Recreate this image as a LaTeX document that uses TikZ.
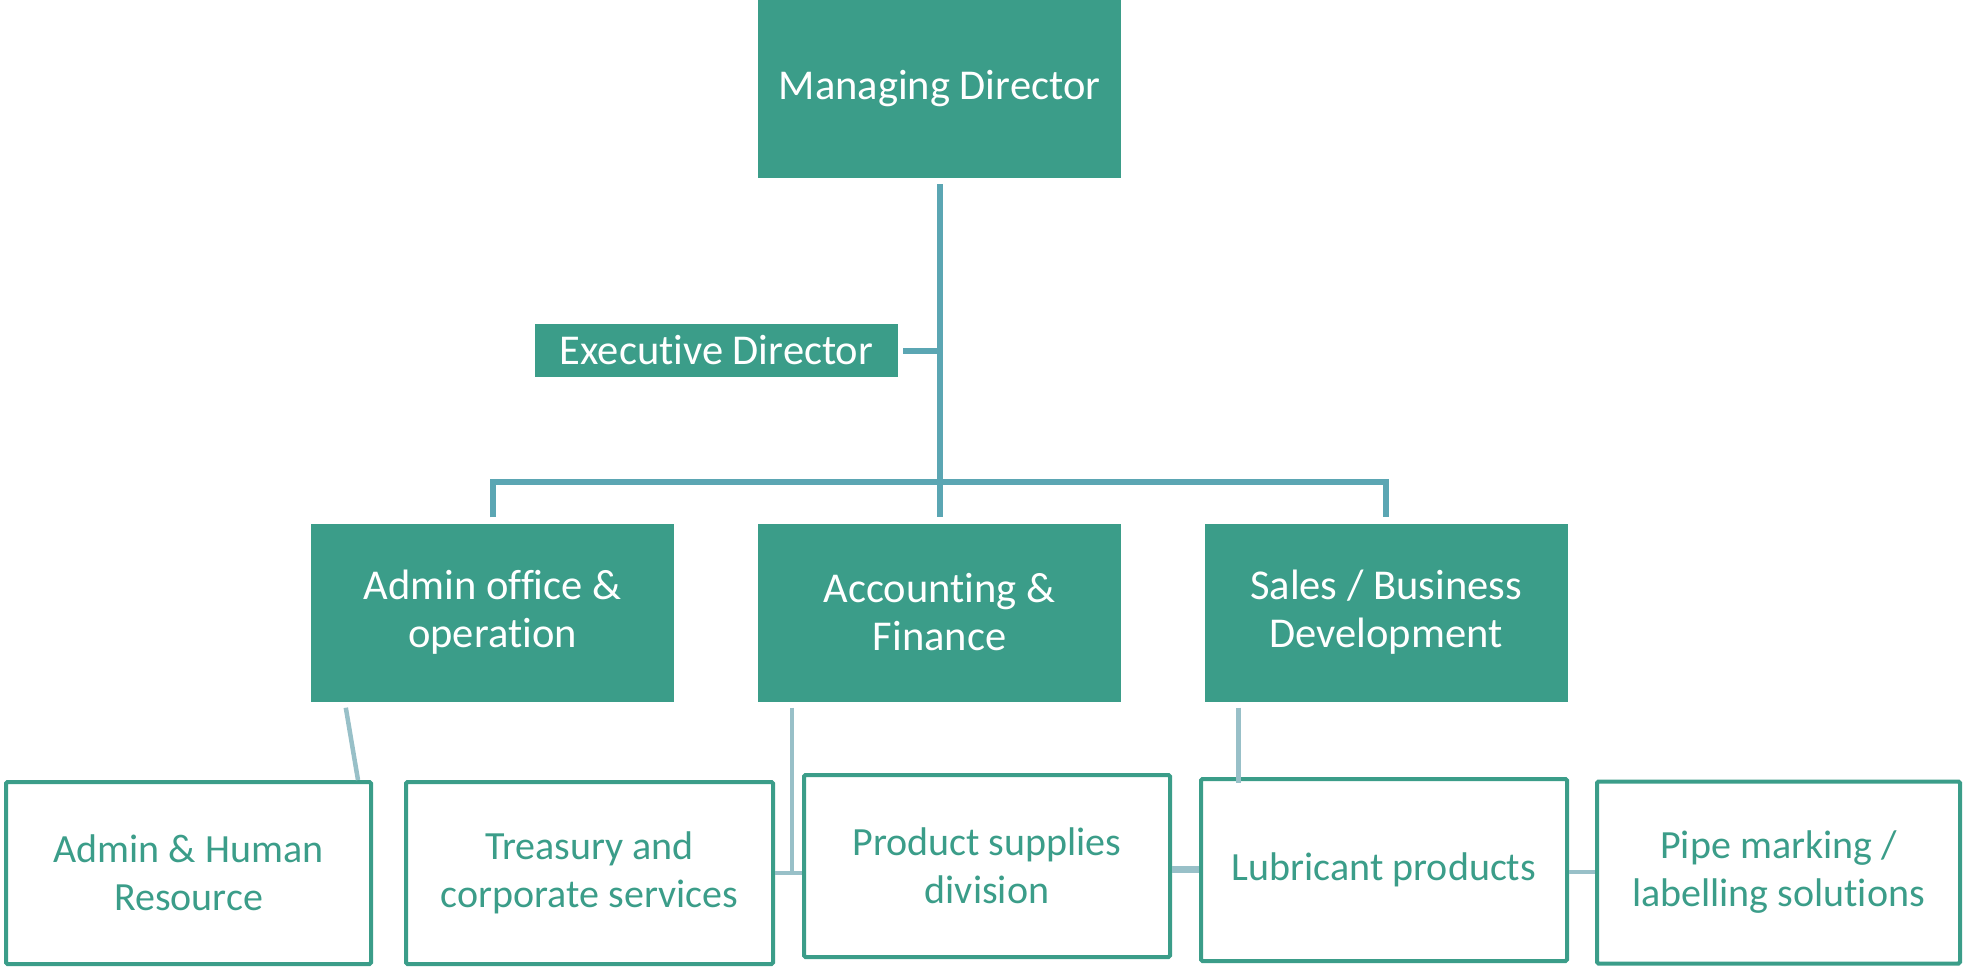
\documentclass[tikz,border=0pt]{standalone}
\usepackage{fontspec}
\setmainfont{Carlito}[Ligatures=NoCommon]
\usetikzlibrary{positioning}
\definecolor{boxgreen}{RGB}{59,157,137}
\definecolor{topblue}{RGB}{91,166,179}
\definecolor{lowblue}{RGB}{152,192,200}

\begin{document}
\begin{tikzpicture}[x=1pt,y=-1pt]
    \tikzstyle{unit}=[rectangle,inner sep=0pt,align=center,font=\fontsize{40}{48}\selectfont]
    \tikzstyle{head}=[unit,fill=boxgreen,text=white,font=\fontsize{42.5}{48}\selectfont,minimum width=363pt,minimum height=178pt];
    \tikzstyle{exec}=[head,minimum height=53pt];
    \tikzstyle{division}=[unit,draw=boxgreen,line width=4pt,rounded corners=1.5pt,text=boxgreen,minimum width=365pt,minimum height=182pt];
    \tikzstyle{topline}=[draw=topblue,line width=6pt]
    \tikzstyle{lowline}=[draw=lowblue,line width=4.5pt]

    \useasboundingbox (0,0) rectangle (1964,966);

    \node[head] (MD) at (939.5,89) {Managing Director};
    \node[exec] (ED) at (716.5,350.5) {Executive Director};

    \node[head] (AO) at (492.5,612.5) {Admin office \&\\operation};
    \node[head] (AF) at (939.5,612.5) {Accounting \&\\Finance};
    \node[head] (SB) at (1386,612.5) {Sales / Business\\Development};

    \node[division] (AHR) at (188.5,873) {Admin \& Human\\Resource};
    \node[division,minimum width=367pt] (TC) at (589.5,873) {Treasury and\\corporate services};
    \node[division,minimum width=366pt] (PS) at (987,866) {Product supplies\\division};
    \node[division,minimum width=366pt] (LP) at (1384,870) {Lubricant products};
    \node[division,minimum width=363pt] (PM) at (1778.5,872.5) {Pipe marking /\\labelling solutions};

    % top of the chart
    \draw[topline,shorten <=6pt,shorten >=6pt] (MD) -- (AF);
    \draw[topline,shorten <=5pt] (ED.east) -- (ED.east -| MD.south);
    \draw[topline] ([yshift=6pt]AO.north) -- ++(0,-35) -| ([yshift=6pt]SB.north);

    % divisions
    \draw[lowline] ([xshift=35pt,yshift=-6pt]AO.south west) -- ([xshift=-15pt]AHR.north east);
    \draw[lowline] ([xshift=34pt,yshift=-6pt]AF.south west) |- (TC.east);
    \draw[lowline] (TC.east) -- (TC.east -| PS.west);
    \draw[lowline,line width=7pt] ([yshift=-3pt]PS.east) -- ([yshift=-3pt]PS.east -| LP.west);
    \draw[lowline] ([xshift=34pt,yshift=-6pt]SB.south west) -- ([xshift=34pt,yshift=-6pt]SB.south west |- LP.north);
    \draw[lowline] ([yshift=-2pt]LP.east) -- ([yshift=-2pt]LP.east -| PM.west);
\end{tikzpicture}
\end{document}
